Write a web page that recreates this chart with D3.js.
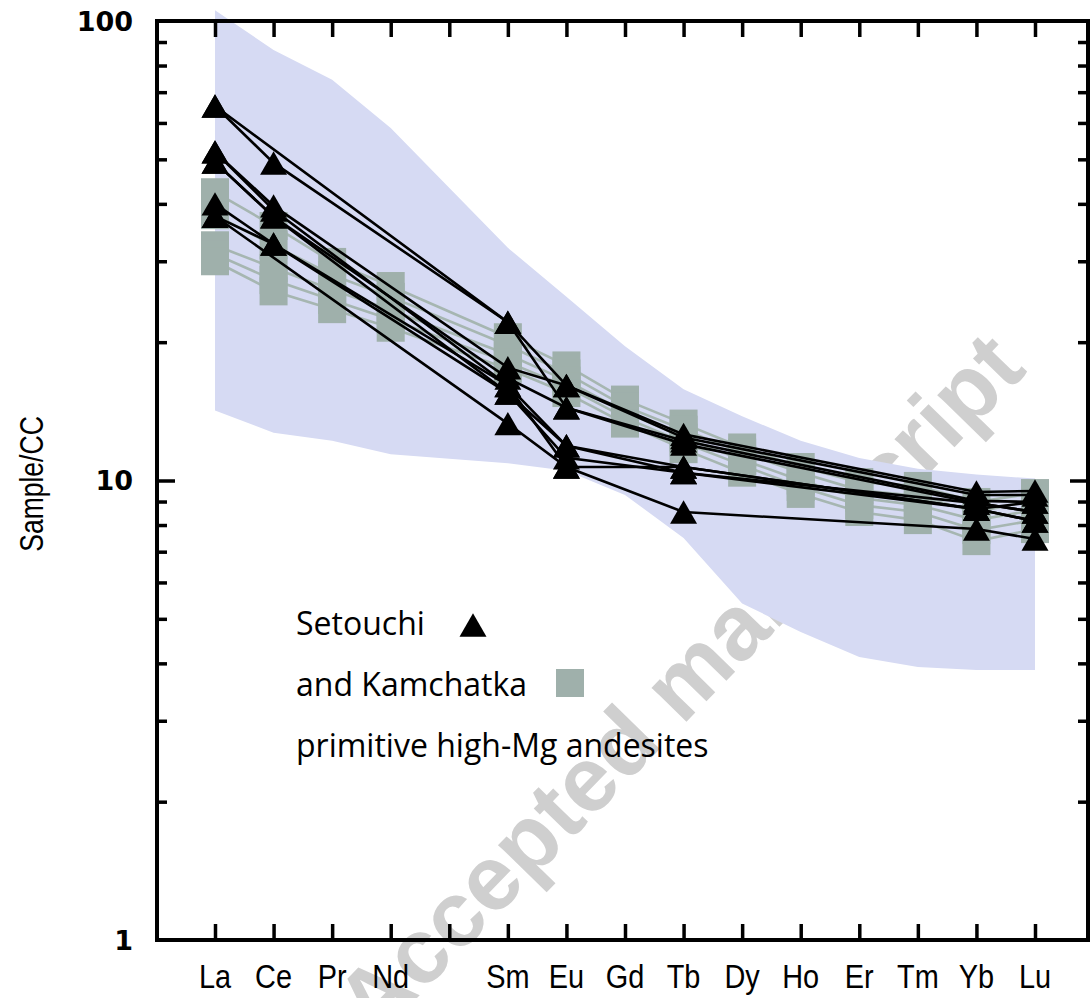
<!DOCTYPE html>
<html><head><meta charset="utf-8">
<script src="https://cdn.jsdelivr.net/npm/d3@7"></script>
<style>body{margin:0;background:#fff}</style>
</head><body>
<svg id="c" width="1090" height="998"></svg>
<script>
// ---- data ----
const elements = ["La","Ce","Pr","Nd","Pm","Sm","Eu","Gd","Tb","Dy","Ho","Er","Tm","Yb","Lu"];
const tickLabels = ["La","Ce","Pr","Nd","","Sm","Eu","Gd","Tb","Dy","Ho","Er","Tm","Yb","Lu"];
const yTickValues = [1, 10, 100];
const yTickLabels = ["1", "10", "100"];
const yMinorTicks = [2,3,4,5,6,7,8,9,20,30,40,50,60,70,80,90];

// field of primitive high-Mg andesites (upper / lower envelope)
const fieldUpper = [105.6, 86.5, 74.5, 58.5, null, 32.1, 25.1, 19.6, 15.8, 13.8, 12.2, 11.2, 10.6, 10.3, 10.1];
const fieldLower = [14.2, 12.7, 12.2, 11.4, null, 10.9, 10.5, 9.3, 7.5, 5.4, 4.68, 4.13, 3.93, 3.87, 3.87];

// Setouchi samples (La, Ce, Sm, Eu, Tb, Yb, Lu)
const setouchiElements = ["La","Ce","Sm","Eu","Tb","Yb","Lu"];
const setouchi1 = [65.3, 49.1, 22.1, 16.1, 12.6, 9.44, 9.49];
const setouchi2 = [65.3, null, 22.1, 14.4, 12.2, 9.03, 8.98];
const setouchi3 = [51.9, 39.6, 17.6, 16.1, 12.4, 9.30, 9.30];
const setouchi4 = [49.3, 37.5, 16.7, 14.4, 12.0, 8.93, 8.54];
const setouchi5 = [51.9, 38.8, 16.1, 11.9, 10.7, 8.67, 8.16];
const setouchi6 = [49.3, 37.5, 15.5, 11.2, 10.4, 8.93, 8.54];
const setouchi7 = [40.0, 32.7, 16.1, 10.7, 10.7, 8.67, 8.98];
const setouchi8 = [37.6, 32.7, 15.5, 11.9, 10.4, 8.67, 8.16];
const setouchi9 = [37.6, null, 13.3, 10.7, 8.54, 7.84, 7.46];

// Kamchatka samples (all REE, Pm empty)
const kamchatka1 = [42.4, 35.8, 29.9, 26.5, null, 20.5, 17.8, 15.0, 13.3, 11.8, 10.7, 9.92, 9.73, 8.98, 9.39];
const kamchatka2 = [37.8, 32.5, 28.0, 25.1, null, 19.7, 17.1, 14.5, 12.9, 11.5, 10.4, 9.53, 9.25, 8.54, 9.07];
const kamchatka3 = [32.5, 29.0, 26.0, 23.5, null, 18.8, 16.5, 14.1, 12.4, 11.1, 10.0, 9.16, 8.84, 8.20, 8.63];
const kamchatka4 = [31.1, 27.3, 24.7, 22.4, null, 18.1, 16.0, 13.7, 12.1, 10.8, 9.68, 8.84, 8.54, 7.80, 8.20];
const kamchatka5 = [30.0, 25.8, 23.6, 21.5, null, 17.5, 15.5, 13.3, 11.7, 10.4, 9.35, 8.54, 8.20, 7.38, 7.84];

const setouchi = [setouchi1, setouchi2, setouchi3, setouchi4, setouchi5, setouchi6, setouchi7, setouchi8, setouchi9];
const kamchatka = [kamchatka1, kamchatka2, kamchatka3, kamchatka4, kamchatka5];

const legendLabels = ["Setouchi", "and Kamchatka", "primitive high-Mg andesites"];
const yTitle = "Sample/CC";
const watermark = "Accepted manuscript";

// ---- layout ----
const L = 157, R = 1088, T = 21, B = 940;
const svg = d3.select("#c");
const x = d3.scalePoint().domain(elements).range([215, 1035]);
const y = d3.scaleLog().domain([1, 100]).range([B, T]);

const black = "#000", grey = "#9fb0ab", greyLine = "#a6b6b1", band = "#d6daf3";

// watermark (beneath the field)
svg.append("text")
  .attr("transform", "translate(375,1041) rotate(-45.7)")
  .attr("font-family", "Liberation Sans, Arial, sans-serif")
  .attr("font-weight", "bold")
  .attr("font-size", 92)
  .attr("fill", "#cfcfcf")
  .text(watermark);

// band
const bandPts = elements.map((e, i) => ({e, u: fieldUpper[i], l: fieldLower[i]})).filter(d => d.u != null);
svg.append("path")
  .datum(bandPts)
  .attr("d", d3.area().x(d => x(d.e)).y0(d => y(d.l)).y1(d => y(d.u)))
  .attr("fill", band);

// Kamchatka
const kLine = d3.line().x(d => x(d.e)).y(d => y(d.v));
kamchatka.forEach(s => {
  const pts = elements.map((e, i) => ({e, v: s[i]})).filter(d => d.v != null);
  svg.append("path").datum(pts).attr("d", kLine)
    .attr("fill", "none").attr("stroke", greyLine).attr("stroke-width", 2.6);
});
kamchatka.forEach(s => {
  const pts = elements.map((e, i) => ({e, v: s[i]})).filter(d => d.v != null);
  svg.append("g").selectAll("rect").data(pts).join("rect")
    .attr("x", d => x(d.e) - 14).attr("y", d => y(d.v) - 14)
    .attr("width", 28).attr("height", 28).attr("fill", grey);
});

// Setouchi
const triPath = "M0,-11.7L13.5,11.7L-13.5,11.7Z";
setouchi.forEach(s => {
  const pts = setouchiElements.map((e, i) => ({e, v: s[i]})).filter(d => d.v != null);
  svg.append("path").datum(pts).attr("d", kLine)
    .attr("fill", "none").attr("stroke", black).attr("stroke-width", 2.6);
});
setouchi.forEach(s => {
  const pts = setouchiElements.map((e, i) => ({e, v: s[i]})).filter(d => d.v != null);
  svg.append("g").selectAll("path").data(pts).join("path")
    .attr("d", triPath)
    .attr("transform", d => `translate(${x(d.e)},${y(d.v)})`)
    .attr("fill", black);
});

// frame and ticks
function styleAxis(g) {
  g.select(".domain").remove();
  g.selectAll(".tick line").attr("stroke", black).attr("stroke-width", 3.5);
  g.selectAll(".tick text").remove();
}
svg.append("g").attr("transform", `translate(${L},0)`)
  .call(d3.axisLeft(y).tickValues(yMinorTicks).tickSize(-10)).call(styleAxis);
svg.append("g").attr("transform", `translate(${L},0)`)
  .call(d3.axisLeft(y).tickValues([10]).tickSize(-18)).call(styleAxis);
svg.append("g").attr("transform", `translate(${R},0)`)
  .call(d3.axisRight(y).tickValues(yMinorTicks).tickSize(-10)).call(styleAxis);
svg.append("g").attr("transform", `translate(${R},0)`)
  .call(d3.axisRight(y).tickValues([10]).tickSize(-18)).call(styleAxis);
svg.append("g").attr("transform", `translate(0,${T})`)
  .call(d3.axisTop(x).tickSize(-16)).call(styleAxis);
svg.append("g").attr("transform", `translate(0,${B})`)
  .call(d3.axisBottom(x).tickSize(-16)).call(styleAxis);

svg.append("rect").attr("x", L).attr("y", T).attr("width", R - L).attr("height", B - T)
  .attr("fill", "none").attr("stroke", black).attr("stroke-width", 4);

// y tick labels
svg.append("g").selectAll("text").data(yTickValues).join("text")
  .attr("x", 133).attr("y", d => y(d)).attr("dy", "0.36em")
  .attr("text-anchor", "end")
  .attr("font-family", "DejaVu Sans, sans-serif").attr("font-weight", "bold")
  .attr("font-size", 27).attr("fill", black)
  .text((d, i) => yTickLabels[i]);

// x labels (condensed)
svg.append("g").selectAll("text").data(elements).join("text")
  .attr("transform", d => `translate(${x(d)},988) scale(0.85,1)`)
  .attr("text-anchor", "middle")
  .attr("font-family", "Liberation Sans, Arial, sans-serif")
  .attr("font-size", 34).attr("fill", black)
  .text((d, i) => tickLabels[i]);

// y title
svg.append("text")
  .attr("transform", "translate(43,484) rotate(-90) scale(0.78,1)")
  .attr("text-anchor", "middle")
  .attr("font-family", "Liberation Sans, Arial, sans-serif")
  .attr("font-size", 34).attr("fill", black)
  .text(yTitle);

// legend
const lg = svg.append("g").attr("font-family", "Open Sans, sans-serif").attr("font-size", 32).attr("fill", black);
const legendY = [635, 696, 757];
legendLabels.forEach((t, i) => {
  lg.append("text").attr("x", 296).attr("y", legendY[i]).text(t);
});
lg.append("path").attr("d", triPath).attr("transform", "translate(473,625)").attr("fill", black);
lg.append("rect").attr("x", 556).attr("y", 669).attr("width", 28).attr("height", 28).attr("fill", grey);
</script>
</body></html>
